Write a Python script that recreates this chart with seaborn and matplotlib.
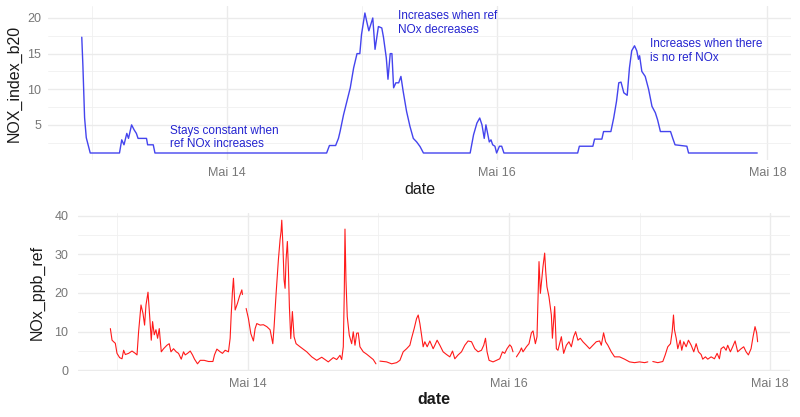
import numpy as np
import pandas as pd
import matplotlib
matplotlib.use("Agg")
import matplotlib.pyplot as plt
import matplotlib.dates as mdates
from matplotlib.ticker import MultipleLocator, FuncFormatter
import seaborn as sns

# ---------------- data (hours since 13 May 00:00) ----------------
start = "2023-05-13 00:00"
month_label = "Mai"
major_days = [14, 16, 18]
minor_days = [13, 15, 17]

top_hours = [-1.8, -1.6, -1.3, -1.0, -0.3, 4.9, 5.3, 5.7, 6.2, 6.5, 7.05, 7.5, 7.9, 8.2,
             9.7, 9.9, 10.9, 11.2, 41.7, 42.2, 43.3, 43.8, 44.1, 44.7, 45.3, 45.9, 46.5,
             47.1, 47.6, 47.9, 48.5, 48.8, 49.2, 49.9, 50.3, 50.9, 51.5, 51.8, 52.3, 52.6,
             53.0, 53.3, 53.6, 54.0, 54.5, 54.9, 55.3, 55.9, 56.5, 57.1, 57.7, 58.3, 58.9,
             67.2, 67.8, 68.4, 68.9, 69.3, 69.7, 70.0, 70.3, 70.6, 70.9, 71.2, 71.6, 71.9,
             72.4, 72.8, 73.2, 86.3, 86.6, 89.0, 89.3, 90.6, 90.9, 92.2, 92.7, 93.2, 93.6,
             94.0, 94.5, 95.1, 95.5, 95.9, 96.4, 96.8, 97.1, 97.3, 97.7, 98.3, 98.9, 99.5,
             100.1, 100.5, 101.0, 102.8, 103.2, 103.6, 105.7, 106.0, 118.2]
nox_index_b20 = [17.3, 13.3, 6.0, 3.2, 1.05, 1.05, 2.9, 2.2, 3.8, 3.1, 5.0, 4.3, 3.8, 3.1,
                 3.1, 2.2, 2.2, 1.05, 1.05, 2.1, 2.1, 3.1, 4.1, 6.4, 8.3, 10.2, 13.0,
                 15.0, 15.0, 17.7, 20.7, 19.6, 18.2, 20.0, 15.6, 18.8, 18.6, 17.3, 14.4, 11.4,
                 15.0, 15.0, 10.2, 10.9, 10.9, 11.8, 9.7, 6.9, 4.8, 3.1, 2.6, 1.95, 1.05,
                 1.05, 3.6, 5.25, 5.96, 5.0, 3.1, 5.0, 3.8, 2.6, 2.9, 2.2, 2.0, 1.05,
                 2.0, 2.0, 1.05, 1.05, 2.0, 2.0, 3.0, 3.0, 4.06, 4.06, 5.96, 8.3, 10.9,
                 11.0, 9.5, 9.15, 13.0, 15.4, 16.1, 15.4, 14.2, 14.7, 12.5, 11.8, 10.0, 7.6,
                 6.7, 5.7, 4.06, 4.06, 3.1, 2.2, 2.0, 1.05, 1.05]

ref_hours = [-1.28, -0.97, -0.68, -0.37, -0.06, 0.42, 0.86, 1.16, 1.47, 2.07, 2.70, 3.30,
             3.62, 3.91, 4.35, 4.72, 5.01, 5.27, 5.64, 5.93, 6.24, 6.48, 6.79, 7.10, 7.40,
             7.71, 8.08, 8.50, 9.12, 9.54, 9.86, 10.33, 10.83, 11.25, 11.75, 12.17, 12.48,
             12.90, 13.40, 13.82, 14.19, 14.74, 15.24, 15.97, 16.76, 17.57, 17.86, 18.30,
             18.91, 19.33, 19.82, 20.43, 20.74, 20.93, 21.16, 21.35, 21.66, 22.08, 22.45,
             22.89, 23.00, 23.3,
             23.68, 24.10, 24.54, 25.02, 25.33, 25.64, 26.25, 26.85, 27.48, 28.08, 28.58,
             28.82, 29.19, 29.61, 29.92, 30.10, 30.23, 30.42, 30.65, 30.84, 31.02, 31.26,
             31.44, 31.63, 31.88, 32.18, 32.49, 32.86, 33.59, 34.82, 35.74, 36.66, 37.57,
             38.18, 38.78, 39.70, 40.33, 40.93, 41.25, 41.54, 41.72, 41.85, 42.03, 42.27,
             42.64, 43.08, 43.37, 43.69, 44.00, 44.29, 44.60, 45.21, 45.83, 46.44, 47.05,
             47.54, 47.9,
             48.27, 49.50, 50.42, 51.34, 51.95, 52.55, 53.18, 53.78, 54.09, 54.57, 55.01,
             55.31, 55.62, 55.93, 56.22, 56.53, 56.96, 57.45, 58.06, 58.37, 58.79, 59.29,
             59.89, 60.52, 61.12, 61.62, 62.04, 62.65, 63.27, 63.88, 64.48, 65.11, 65.71,
             66.32, 66.94, 67.36, 67.68, 67.97, 68.34, 69.07, 69.70, 70.30, 70.80, 71.22,
             71.64, 72.14, 72.45, 72.74, 73.0,
             73.37, 73.97, 74.29, 74.58, 75.20, 75.68, 76.12, 76.42, 76.85, 77.15, 77.52,
             77.77, 78.07, 78.25, 78.56, 78.75, 78.98, 79.35, 79.79, 79.98, 80.40, 80.71,
             81.00, 81.63, 82.05, 82.55, 83.02, 83.46, 83.88, 84.25, 84.67, 85.11, 85.59,
             86.22, 86.82, 87.43, 88.05, 88.66, 88.97, 89.39, 89.76, 90.18, 90.80, 91.41,
             92.33, 93.25, 94.16, 95.08, 96.00, 96.92, 97.52, 98.0,
             98.44, 99.36, 100.28, 100.72, 101.19, 101.69, 102.00, 102.24, 102.42, 102.74,
             103.03, 103.47, 103.76, 104.13, 104.57, 104.99, 105.49, 105.97, 106.41, 106.83,
             107.32, 107.62, 108.11, 108.54, 109.16, 109.77, 110.26, 110.68, 110.99, 111.47,
             111.91, 112.21, 112.70, 113.12, 113.57, 114.04, 114.67, 115.15, 115.59, 116.01,
             116.50, 116.87, 117.23, 117.53, 117.71]
nox_ppb_ref = [10.8, 7.8, 7.4, 7.0, 4.4, 3.3, 3.0, 5.2, 4.1, 4.4, 5.0, 4.4,
               4.0, 10.0, 16.9, 14.7, 11.7, 16.9, 20.2, 14.3, 7.8, 12.6, 9.2, 10.5, 8.3,
               10.8, 4.8, 5.6, 6.5, 6.9, 4.8, 5.6, 4.8, 4.4, 2.9, 4.8, 4.0,
               4.4, 5.0, 4.0, 2.9, 1.7, 2.6, 2.6, 2.3, 2.3, 4.0, 5.5,
               4.8, 4.4, 5.2, 4.8, 8.3, 14.3, 20.3, 23.8, 15.6, 17.3, 19.1,
               20.8, 19.6, np.nan,
               16.0, 13.4, 9.5, 7.6, 10.8, 12.1, 11.7, 11.8, 11.3, 10.5, 6.9,
               11.3, 19.9, 28.6, 33.8, 35.9, 38.8, 32.9, 23.4, 21.2, 28.6, 33.3,
               26.8, 16.5, 8.2, 15.2, 8.7, 6.9, 6.1, 4.8, 3.5, 2.6, 3.4,
               2.8, 2.2, 3.3, 2.8, 3.9, 2.8, 6.1, 19.9, 36.5, 23.4, 13.9,
               9.1, 6.9, 9.96, 6.5, 9.6, 9.7, 6.1, 4.8, 4.2, 3.5, 2.8,
               1.7, np.nan,
               2.4, 2.2, 1.7, 2.0, 2.6, 4.8, 5.6, 6.5, 8.3, 10.8, 13.4,
               14.3, 12.1, 9.1, 6.1, 7.4, 6.1, 7.6, 5.6, 6.5, 7.8, 6.5,
               4.8, 4.1, 3.5, 5.0, 3.0, 4.0, 4.8, 6.5, 7.6, 7.4, 5.6,
               4.8, 5.2, 6.5, 8.3, 4.8, 2.6, 2.2, 2.6, 3.0, 4.8, 4.4,
               5.6, 6.6, 6.1, 4.8, np.nan,
               3.5, 4.8, 5.8, 4.8, 6.1, 6.9, 9.7, 10.2, 6.9, 8.7, 28.1,
               19.9, 24.2, 26.8, 30.3, 25.6, 21.6, 19.0, 14.3, 8.3, 16.5, 5.6,
               5.2, 8.7, 4.4, 6.5, 7.4, 6.1, 8.7, 10.0, 7.8, 8.3, 7.4,
               6.5, 5.6, 6.5, 7.4, 7.6, 6.5, 9.7, 7.4, 6.5, 4.8, 3.5,
               3.5, 2.9, 2.2, 2.0, 2.2, 2.0, 2.2, np.nan,
               2.3, 2.0, 2.3, 4.0, 6.1, 6.9, 10.0, 14.3, 10.5, 8.3,
               5.6, 7.8, 5.2, 7.4, 6.1, 7.8, 6.5, 4.8, 6.9, 4.8,
               4.1, 2.9, 3.5, 2.9, 3.5, 3.0, 4.4, 3.0, 5.6, 6.1,
               5.2, 6.5, 4.8, 6.1, 7.6, 4.8, 5.6, 6.1, 4.8, 4.0,
               5.6, 8.7, 11.3, 9.7, 7.4]


def make_frame(hours, values):
    t = pd.Timestamp(start) + pd.to_timedelta(np.array(hours, float), unit="h")
    v = np.array(values, float)
    seg = np.cumsum(np.isnan(v))
    df = pd.DataFrame({"date": t, "value": v, "seg": seg})
    return df.dropna()


top_df = make_frame(top_hours, nox_index_b20)
ref_df = make_frame(ref_hours, nox_ppb_ref)

# ---------------- style ----------------
sns.set_theme(style="white")
plt.rcParams["font.family"] = ["Liberation Sans", "DejaVu Sans"]

W, H = 800, 417
fig = plt.figure(figsize=(W / 100, H / 100), dpi=100)


def ax_rect(l, t, r, b):
    return [l / W, 1 - b / H, (r - l) / W, (b - t) / H]


ax1 = fig.add_axes(ax_rect(48, 6, 791, 160))
ax2 = fig.add_axes(ax_rect(78, 213, 790, 371))

sns.lineplot(data=top_df, x="date", y="value", units="seg", estimator=None,
             color="#4444EE", lw=1.0, ax=ax1)
sns.lineplot(data=ref_df, x="date", y="value", units="seg", estimator=None,
             color="#FF1A1A", lw=0.8, ax=ax2)

fmt = FuncFormatter(lambda x, p: f"{month_label} {mdates.num2date(x).day}")
for ax, ymaj, ymin in [(ax1, 5, 2.5), (ax2, 10, 5)]:
    ax.margins(x=0.05, y=0.05)
    ax.xaxis.set_major_locator(mdates.DayLocator(bymonthday=major_days))
    ax.xaxis.set_minor_locator(mdates.DayLocator(bymonthday=minor_days))
    ax.xaxis.set_major_formatter(fmt)
    ax.yaxis.set_major_locator(MultipleLocator(ymaj))
    ax.yaxis.set_minor_locator(MultipleLocator(ymin))
    ax.grid(True, which="major", color="#EBEBEB", lw=1.0)
    ax.grid(True, which="minor", color="#F0F0F0", lw=0.6)
    ax.set_axisbelow(True)
    for s in ax.spines.values():
        s.set_visible(False)
    ax.tick_params(which="both", length=0, labelsize=9, labelcolor="#777777", pad=5)

ax1.set_xlabel("date", fontsize=11.5, color="#1a1a1a")
ax1.set_ylabel("NOX_index_b20", fontsize=11.5, color="#1a1a1a")
ax2.set_xlabel("date", fontsize=11.5, color="#1a1a1a", fontweight="bold")
ax2.set_ylabel("NOx_ppb_ref", fontsize=11.5, color="#1a1a1a")
ax2.tick_params(axis="y", pad=7)
ax1.xaxis.set_label_coords(0.5, -0.14)
ax2.xaxis.set_label_coords(0.5, -0.13)
ax1.yaxis.set_label_coords(-0.035, 0.5)
ax2.yaxis.set_label_coords(-0.046, 0.5)

note_kw = dict(transform=ax1.transAxes, color="#2424D0", fontsize=8.5,
               va="top", ha="left", linespacing=1.2)
ax1.text(0.164, 0.23, "Stays constant when\nref NOx increases", **note_kw)
ax1.text(0.471, 0.975, "Increases when ref\nNOx decreases", **note_kw)
ax1.text(0.810, 0.79, "Increases when there\nis no ref NOx", **note_kw)

fig.savefig("out.png", dpi=100)
